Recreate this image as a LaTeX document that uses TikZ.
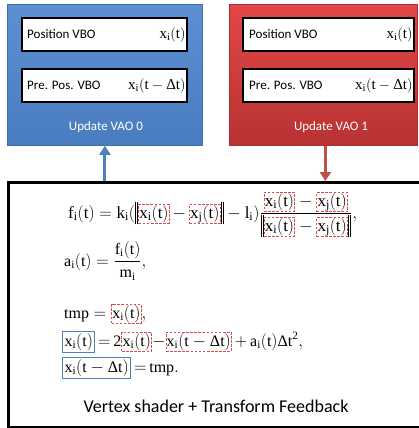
\documentclass[tikz,border=0pt]{standalone}
\usepackage{fontspec}
\setmainfont{Carlito}
\setmathrm{Liberation Serif}
\newfontfamily\tnr{Liberation Serif}
\usetikzlibrary{arrows.meta,calc}
\definecolor{vblue}{HTML}{4F81BD}
\definecolor{bluetop}{HTML}{5C90D2}
\definecolor{bluebot}{HTML}{4A7CC0}
\definecolor{blueedge}{HTML}{3F6FAE}
\definecolor{redtop}{HTML}{E24747}
\definecolor{redbot}{HTML}{B83232}
\definecolor{rededge}{HTML}{A83030}
\definecolor{dred}{HTML}{E04A4A}
\definecolor{rarrow}{HTML}{C0504D}
\tikzset{
  rbox/.style={draw=dred, dash pattern=on 2.6pt off 1.5pt, line width=0.9pt, inner sep=0.7pt, outer sep=0pt},
  bbox/.style={draw=vblue, line width=1.2pt, inner sep=1.8pt, outer sep=0pt},
  vbo/.style={draw=black, line width=1.8pt, fill=white, anchor=north west, minimum width=165pt, minimum height=33pt, inner sep=0pt},
  vao/.style={anchor=north west, minimum height=141pt, inner sep=0pt},
  lbl/.style={font=\fontsize{13}{15}\selectfont, inner sep=0pt},
  eqn/.style={font=\fontsize{17}{20}\selectfont, inner sep=0pt, anchor=base west},
  eqs/.style={font=\fontsize{16}{19}\selectfont, inner sep=0pt, anchor=base west},
  conn/.style={line width=3pt, -{Triangle[length=9pt,width=11pt]}},
}
\newcommand\Dl{\mbox{\tnr Δ}}
\newcommand\rb[1]{\tikz[baseline=(rb.base)]\node[rbox](rb){$\mathrm{#1}$};}
\newcommand\bb[1]{\tikz[baseline=(bb.base)]\node[bbox](bb){$\mathrm{#1}$};}
\newcommand\nrm{\rule[-6pt]{1.4pt}{22pt}\hspace{0.8pt}\rule[-6pt]{0.9pt}{22pt}}
\begin{document}
\begin{tikzpicture}[x=1pt,y=-1pt]
\clip (0,0) rectangle (419,428);
% update boxes
\node[vao, minimum width=195pt, top color=bluetop, bottom color=bluebot, draw=blueedge, line width=0.8pt] (blue) at (7,4) {};
\node[vao, minimum width=188pt, top color=redtop, bottom color=redbot, draw=rededge, line width=0.8pt] (red) at (229,4) {};
% inner VBO boxes
\node[vbo] (bp) at (21,17) {};
\node[vbo] (bq) at (21,68) {};
\node[vbo, minimum width=171pt] (rp) at (242,17) {};
\node[vbo, minimum width=171pt] (rq) at (242,68) {};
\node[lbl, anchor=west] (bpt) at ($(bp.west)+(6,0)$) {Position VBO};
\node[lbl, anchor=west] (bqt) at ($(bq.west)+(6,0)$) {Pre. Pos. VBO};
\node[lbl, anchor=west] (rpt) at ($(rp.west)+(7,0)$) {Position VBO};
\node[lbl, anchor=west] (rqt) at ($(rq.west)+(7,0)$) {Pre. Pos. VBO};
\node[lbl, anchor=east, font=\fontsize{15}{17}\selectfont] (bpm) at ($(bp.east)+(-2,0)$) {$\mathrm{x_i(t)}$};
\node[lbl, anchor=east, font=\fontsize{15}{17}\selectfont] (bqm) at ($(bq.east)+(-2,0)$) {$\mathrm{x_i(t-\Dl t)}$};
\node[lbl, anchor=east, font=\fontsize{15}{17}\selectfont] (rpm) at ($(rp.east)+(-2,0)$) {$\mathrm{x_i(t)}$};
\node[lbl, anchor=east, font=\fontsize{15}{17}\selectfont] (rqm) at ($(rq.east)+(-2,0)$) {$\mathrm{x_i(t-\Dl t)}$};
\node[lbl, text=white] (bt) at (106,127) {Update VAO 0};
\node[lbl, text=white] (rt) at (331,127) {Update VAO 1};
% main box
\node[draw=black, line width=2.5pt, anchor=north west, minimum width=425pt, minimum height=245pt, inner sep=0pt] (main) at (7,181) {};
% connectors
\draw[conn, draw=vblue, fill=vblue] (blue.south |- main.north) -- (blue.south);
\draw[conn, draw=rarrow, fill=rarrow] ($(red.south)+(2,0)$) -- ($(red.south |- main.north)+(2,0)$);
% equations
\node[eqn] (e1) at (68,218) {$\displaystyle\mathrm{f_i(t) = k_i(\nrm\rb{x_i(t)}\,{-}\,\rb{x_j(t)}\nrm - l_i)\frac{\rb{x_i(t)}-\rb{x_j(t)}}{\nrm\rb{x_i(t)}-\rb{x_j(t)}\nrm}},$};
\node[eqs] (e2) at (64,266) {$\displaystyle\mathrm{a_i(t) = \frac{f_i(t)}{m_i}},$};
\node[eqs] (e3) at (64,318) {$\mathrm{tmp = \rb{x_i(t)}},$};
\node[eqs] (e4) at (62,346) {$\mathrm{\bb{x_i(t)}\,{=}\,2\rb{x_i(t)}{-}\rb{x_i(t-\Dl t)}\,{+}\,a_i(t)\Dl t^2},$};
\node[eqs] (e5) at (62,372) {$\mathrm{\bb{x_i(t-\Dl t)}\,{=}\,tmp.}$};
\node[font=\fontsize{18}{21}\selectfont, inner sep=0pt] (vs) at (216,406) {Vertex shader + Transform Feedback};
\end{tikzpicture}
\end{document}
